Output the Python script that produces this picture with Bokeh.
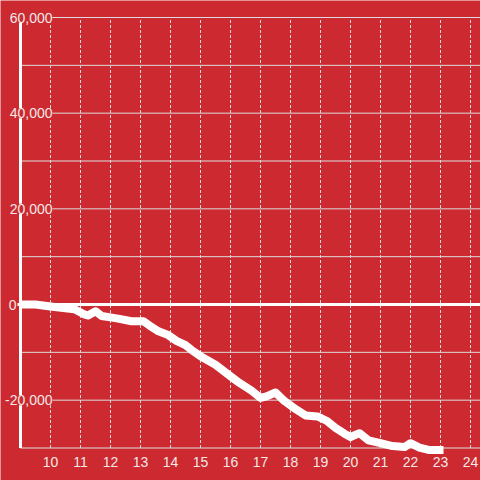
from bokeh.plotting import figure
from bokeh.models import Range1d, Label
from bokeh.core.properties import value
from bokeh.embed import file_html
from bokeh.resources import INLINE

# ---- data ----
hours = [9.0, 9.5, 10.0, 10.5, 10.8, 11.1, 11.25, 11.5, 11.7, 12.0, 12.3, 12.7,
         13.1, 13.3, 13.6, 13.9, 14.2, 14.5, 14.7, 15.0, 15.5, 16.0, 16.3, 16.7,
         17.0, 17.2, 17.5, 17.8, 18.2, 18.5, 18.9, 19.2, 19.5, 19.8, 20.0, 20.3,
         20.6, 21.0, 21.4, 21.8, 22.0, 22.3, 22.6, 23.1]
values = [0, 0, -400, -800, -1000, -2000, -2300, -1400, -2400, -2700, -3000, -3500,
          -3500, -4400, -5600, -6300, -7600, -8500, -9500, -10800, -12600, -15000, -16400, -18000,
          -19500, -19200, -18400, -20200, -22000, -23200, -23400, -24300, -25800, -27000, -27700, -26900,
          -28400, -29000, -29600, -29800, -29000, -29900, -30400, -30400]

x_ticks = list(range(10, 25))
x_tick_labels = [str(t) for t in x_ticks]
y_grid_ticks = list(range(-30000, 60001, 10000))
y_label_ticks = [60000, 40000, 20000, 0, -20000]

RED = "#CC2A30"
GRID = "#dcdcdc"
TEXT = "#f2e8e8"
FONT = "Liberation Sans"

# pixel geometry of the plot (frame = whole canvas)
W = H = 480
X0_PX, X_PER_UNIT = 20, 30.0          # x=9 at px 20
Y0_PX, Y_PER_UNIT = 304, 287 / 60000  # y=0 at px 304

def px_to_x(px):
    return 9 + (px - X0_PX) / X_PER_UNIT

def px_to_y(py):
    return (Y0_PX - py) / Y_PER_UNIT

x_lo, x_hi = px_to_x(0), px_to_x(W)
y_lo, y_hi = px_to_y(H), px_to_y(0)

p = figure(width=W, height=H, output_backend="svg", toolbar_location=None,
           x_range=Range1d(x_lo, x_hi), y_range=Range1d(y_lo, y_hi),
           min_border=0, background_fill_color=RED, border_fill_color=RED,
           outline_line_color=None)
p.axis.visible = False
p.grid.visible = False

y_min, y_max = min(y_grid_ticks), max(y_grid_ticks)
x_axis = hours[0]

# horizontal grid lines
ng = len(y_grid_ticks)
p.segment(x0=[x_axis] * ng, x1=[x_hi] * ng, y0=y_grid_ticks, y1=y_grid_ticks,
          line_color=GRID, line_width=1)

# vertical dotted grid lines
n = len(x_ticks)
p.segment(x0=x_ticks, x1=x_ticks, y0=[y_min] * n, y1=[y_max] * n,
          line_color=GRID, line_width=1, line_dash="3 2")

# y axis line
p.segment(x0=[x_axis], x1=[x_axis], y0=[y_min], y1=[y_max], line_color="white", line_width=3)

# data line
p.line(hours, values, line_color="white", line_width=8, line_join="round")

# zero line
p.segment(x0=[px_to_x(17)], x1=[x_hi], y0=[0], y1=[0], line_color="white", line_width=3)

# x tick labels
p.text(x=x_ticks, y=[px_to_y(461)] * n, text=x_tick_labels, text_align="center",
       text_baseline="middle", text_font_size="14px", text_font=value(FONT), text_color=TEXT)

# y labels
for v in y_label_ticks:
    xpos = px_to_x(52) if v != 0 else px_to_x(16)
    p.add_layout(Label(x=xpos, y=v, text=f"{v:,}", text_align="right", text_baseline="middle",
                       text_font_size="14px", text_font=FONT, text_color=TEXT,
                       background_fill_color=RED))

open("out.html", "w").write(file_html(p, INLINE))
